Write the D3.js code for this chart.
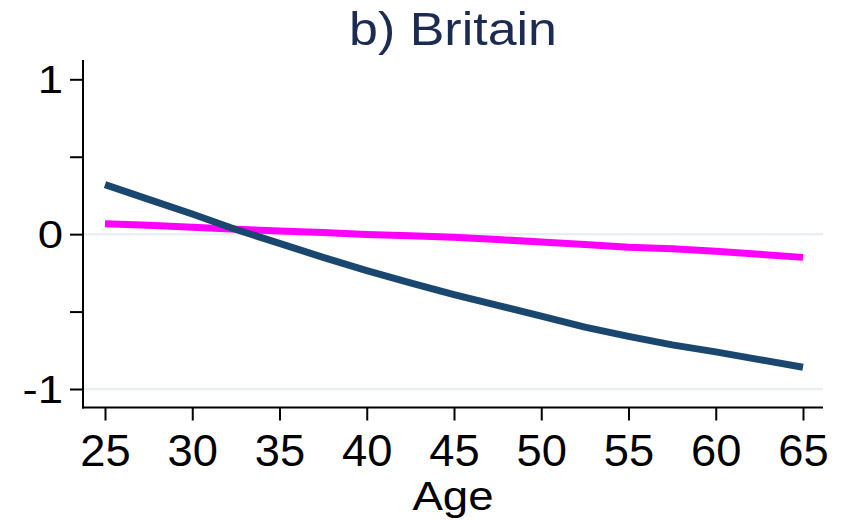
<!DOCTYPE html>
<html>
<head>
<meta charset="utf-8">
<script src="https://cdn.jsdelivr.net/npm/d3@7"></script>
<style>
  html, body { margin: 0; padding: 0; background: #ffffff; }
  svg { display: block; font-family: "Liberation Sans", Arial, Helvetica, sans-serif; }
</style>
</head>
<body>
<svg id="chart" width="841" height="520"></svg>
<script>
// Age profile, Britain
const titleText = "b) Britain";
const xLabel = "Age";
const ages = [25, 27.5, 30, 32.5, 35, 37.5, 40, 42.5, 45, 47.5, 50, 52.5, 55, 57.5, 60, 62.5, 65];
const seriesNavy = [0.32, 0.225, 0.13, 0.03, -0.06, -0.15, -0.235, -0.315, -0.39, -0.46, -0.53, -0.6, -0.66, -0.715, -0.76, -0.81, -0.86];
const seriesMagenta = [0.067, 0.057, 0.045, 0.032, 0.02, 0.01, -0.002, -0.01, -0.02, -0.035, -0.05, -0.067, -0.085, -0.095, -0.11, -0.13, -0.15];
const xTicks = [25, 30, 35, 40, 45, 50, 55, 60, 65];
const yMajorTicks = [-1, 0, 1];
const yMinorTicks = [-0.5, 0.5];
const yGrid = [-1, 0];

const svg = d3.select("#chart");

const plot = { left: 83, right: 823, top: 60, bottom: 407.5 };

const x = d3.scaleLinear().domain([25, 65]).range([105, 803]);
const y = d3.scaleLinear().domain([-1, 1]).range([389, 79.3]);

// plain hyphen-minus for negative tick labels
const fmt = d => String(d);

// gridlines
svg.append("g").selectAll("line").data(yGrid).join("line")
  .attr("x1", plot.left).attr("x2", plot.right)
  .attr("y1", d => y(d)).attr("y2", d => y(d))
  .attr("stroke", "#e8eff1").attr("stroke-width", 2.5);

// y axis
const yStretch = 1.2;
const yAxis = svg.append("g").attr("transform", `translate(${plot.left},0)`)
  .call(d3.axisLeft(y).tickValues(yMajorTicks).tickSize(13).tickFormat(fmt));
yAxis.select(".domain").remove();
yAxis.selectAll(".tick line").attr("stroke", "#000").attr("stroke-width", 2);
yAxis.selectAll(".tick text").attr("font-size", 38).attr("fill", "#000")
  .attr("font-family", "Liberation Sans, Arial, sans-serif")
  .attr("x", -20 / yStretch)
  .attr("dy", "0.36em")
  .attr("transform", `scale(${yStretch},1)`);

const yMinor = svg.append("g").attr("transform", `translate(${plot.left},0)`)
  .call(d3.axisLeft(y).tickValues(yMinorTicks).tickSize(13).tickFormat(""));
yMinor.select(".domain").remove();
yMinor.selectAll(".tick line").attr("stroke", "#000").attr("stroke-width", 2);

svg.append("line")
  .attr("x1", plot.left).attr("x2", plot.left)
  .attr("y1", plot.top).attr("y2", plot.bottom + 1)
  .attr("stroke", "#000").attr("stroke-width", 2);

// x axis
const xAxis = svg.append("g").attr("transform", `translate(0,${plot.bottom})`)
  .call(d3.axisBottom(x).tickValues(xTicks).tickSize(13).tickPadding(14).tickFormat(fmt));
xAxis.select(".domain").remove();
xAxis.selectAll(".tick line").attr("stroke", "#000").attr("stroke-width", 2);
xAxis.selectAll(".tick text").attr("font-size", 44).attr("fill", "#000")
  .attr("font-family", "Liberation Sans, Arial, sans-serif")
  .attr("transform", "scale(1.03,1)")
  .attr("dy", "0.71em");

svg.append("line")
  .attr("x1", plot.left - 1).attr("x2", plot.right)
  .attr("y1", plot.bottom).attr("y2", plot.bottom)
  .attr("stroke", "#000").attr("stroke-width", 2);

// lines
const line = d3.line().x((d, i) => x(ages[i])).y(d => y(d));

svg.append("path").datum(seriesMagenta)
  .attr("d", line).attr("fill", "none")
  .attr("stroke", "#ff00ff").attr("stroke-width", 7);

svg.append("path").datum(seriesNavy)
  .attr("d", line).attr("fill", "none")
  .attr("stroke", "#1a476f").attr("stroke-width", 7);

// title and axis label (slightly widened lettering)
const cx = (plot.left + plot.right) / 2;
svg.append("text")
  .attr("transform", `translate(${cx},45) scale(1.13,1)`)
  .attr("text-anchor", "middle").attr("font-size", 46)
  .attr("fill", "#1c2b52").text(titleText);

svg.append("text")
  .attr("transform", `translate(${cx},510) scale(1.14,1)`)
  .attr("text-anchor", "middle").attr("font-size", 40)
  .attr("fill", "#000").text(xLabel);
</script>
</body>
</html>
